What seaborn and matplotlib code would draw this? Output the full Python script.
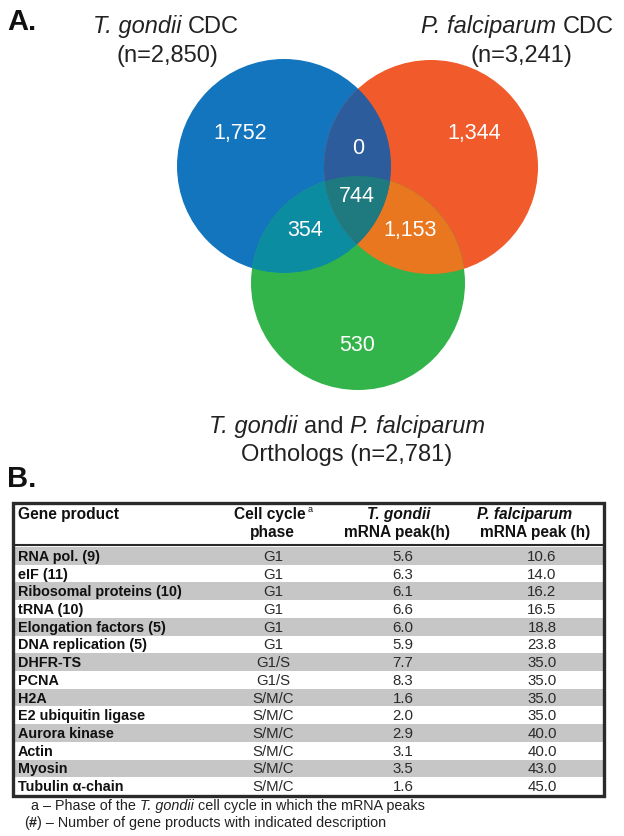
import numpy as np
import pandas as pd
import matplotlib
matplotlib.use('Agg')
import matplotlib.pyplot as plt
import seaborn as sns
from matplotlib.patches import Circle, Polygon, Rectangle
from matplotlib.colors import ListedColormap

# --- datos del diagrama de Venn ---
set_species = ['T. gondii', 'P. falciparum']
set_sizes = [2850, 3241, 2781]
# regiones: (T. gondii, P. falciparum, ortologos)
region_keys = ['100', '010', '110', '111', '101', '011', '001']
region_counts = [1752, 1344, 0, 744, 354, 1153, 530]

# --- datos de la tabla ---
col_headers = ['Gene product', 'Cell cycle', 'T. gondii', 'P. falciparum']
gene_products = ['RNA pol. (9)', 'eIF (11)', 'Ribosomal proteins (10)', 'tRNA (10)',
                 'Elongation factors (5)', 'DNA replication (5)', 'DHFR-TS', 'PCNA',
                 'H2A', 'E2 ubiquitin ligase', 'Aurora kinase', 'Actin', 'Myosin',
                 'Tubulin α-chain']
phases = ['G1', 'G1', 'G1', 'G1', 'G1', 'G1', 'G1/S', 'G1/S',
          'S/M/C', 'S/M/C', 'S/M/C', 'S/M/C', 'S/M/C', 'S/M/C']
tg_peak = [5.6, 6.3, 6.1, 6.6, 6.0, 5.9, 7.7, 8.3, 1.6, 2.0, 2.9, 3.1, 3.5, 1.6]
pf_peak = [10.6, 14.0, 16.2, 16.5, 18.8, 23.8, 35.0, 35.0, 35.0, 35.0, 40.0, 40.0, 43.0, 45.0]

sns.set_theme(style='white')
plt.rcParams['font.family'] = ['Liberation Sans', 'DejaVu Sans']

W, H = 624, 837
fig = plt.figure(figsize=(W / 100, H / 100), dpi=100)
renderer = fig.canvas.get_renderer()

# --- tabla: franjas con seaborn ---
tx0, tx1, ty0, ty1 = 14, 604, 548, 796
hax = fig.add_axes([tx0 / W, 1 - ty1 / H, (tx1 - tx0) / W, (ty1 - ty0) / H])
table = pd.DataFrame({'product': gene_products, 'phase': phases,
                      'tg': tg_peak, 'pf': pf_peak})
table['band'] = [1 - i % 2 for i in range(len(table))]
sns.heatmap(table[['band']], ax=hax, cmap=ListedColormap(['white', '#c6c6c6']),
            vmin=0, vmax=1, cbar=False, xticklabels=False, yticklabels=False)
hax.set_xlabel('')
hax.set_ylabel('')

def fx(px):
    return (px - tx0) / (tx1 - tx0)

tr = hax.get_yaxis_transform()
for i, row in table.iterrows():
    y = i + 0.5
    hax.text(fx(18), y, row['product'], transform=tr, ha='left', va='center',
             fontsize=10.4, fontweight='bold', color='#111111')
    hax.text(fx(273), y, row['phase'], transform=tr, ha='center', va='center',
             fontsize=10.8, color='#2a2a2a')
    hax.text(fx(403), y, f"{row['tg']:.1f}", transform=tr, ha='center', va='center',
             fontsize=10.8, color='#2a2a2a')
    hax.text(fx(542), y, f"{row['pf']:.1f}", transform=tr, ha='center', va='center',
             fontsize=10.8, color='#2a2a2a')

# --- capa superior en pixeles ---
ax = fig.add_axes([0, 0, 1, 1], facecolor='none')
ax.set_xlim(0, W)
ax.set_ylim(H, 0)
ax.axis('off')


def text_width(s, **kw):
    t = ax.text(0, 0, s, **kw)
    w = t.get_window_extent(renderer).width
    t.remove()
    return w


def runs_text(x, y, runs, ha='left', size=17, color='#222222'):
    """Texto con tramos en cursiva / negrita; runs = (texto, estilo, peso, espacio_antes)."""
    gap = text_width('x x', fontsize=size) - text_width('xx', fontsize=size)
    arts, widths = [], []
    for s, style, weight, sp in runs:
        a = ax.text(0, y, s, fontsize=size, fontstyle=style, fontweight=weight,
                    color=color, ha='left', va='baseline')
        arts.append(a)
        widths.append(a.get_window_extent(renderer).width + (gap if sp else 0))
    total = sum(widths)
    pos = x - total / 2 if ha == 'center' else x
    for a, w, run in zip(arts, widths, runs):
        a.set_x(pos + (gap if run[3] else 0))
        pos += w


r = 107
c_tg = np.array([284.0, 167.0])
c_pf = np.array([431.0, 168.0])
c_or = np.array([358.0, 284.0])

def lens_polygon(c1, c2, r, n=1440):
    t = np.linspace(0, 2 * np.pi, n, endpoint=False)
    ring = np.c_[np.cos(t), np.sin(t)] * r
    a = ring + c1
    b = ring + c2
    pts = np.vstack([a[np.hypot(*(a - c2).T) <= r], b[np.hypot(*(b - c1).T) <= r]])
    mid = pts.mean(axis=0)
    order = np.argsort(np.arctan2(pts[:, 1] - mid[1], pts[:, 0] - mid[0]))
    return pts[order]

blue = ax.add_patch(Circle(c_tg, r, color='#1275bd', lw=0))
orange = ax.add_patch(Circle(c_pf, r, color='#f15a2b', lw=0))
green = ax.add_patch(Circle(c_or, r, color='#33b44a', lw=0))
p = ax.add_patch(Circle(c_or, r, color='#0b8ca1', lw=0))
p.set_clip_path(blue)
p = ax.add_patch(Circle(c_or, r, color='#e8771f', lw=0))
p.set_clip_path(orange)
lens = lens_polygon(c_tg, c_pf, r)
ax.add_patch(Polygon(lens, closed=True, color='#2c5c9b', lw=0))
p = ax.add_patch(Polygon(lens, closed=True, color='#1f7a7f', lw=0))
p.set_clip_path(green)

count_pos = {'100': (240, 133), '010': (474, 133), '110': (358, 148),
             '111': (357, 196), '101': (305, 230), '011': (410, 230), '001': (357, 345)}
for key, n in zip(region_keys, region_counts):
    x, y = count_pos[key]
    ax.text(x, y, f'{n:,}', ha='center', va='center', fontsize=15.5, color='white')

runs_text(166, 33, [(set_species[0], 'italic', 'normal', False), ('CDC', 'normal', 'normal', True)],
          ha='center')
ax.text(167, 62, f'(n={set_sizes[0]:,})', ha='center', va='baseline', fontsize=17, color='#222222')
runs_text(517, 33, [(set_species[1], 'italic', 'normal', False), ('CDC', 'normal', 'normal', True)],
          ha='center')
ax.text(521, 62, f'(n={set_sizes[1]:,})', ha='center', va='baseline', fontsize=17, color='#222222')
runs_text(347, 433, [(set_species[0], 'italic', 'normal', False), ('and', 'normal', 'normal', True),
                     (set_species[1], 'italic', 'normal', True)], ha='center')
ax.text(347, 461, f'Orthologs (n={set_sizes[2]:,})', ha='center', va='baseline',
        fontsize=17, color='#222222')

ax.text(7, 30, 'A.', ha='left', va='baseline', fontsize=21, fontweight='bold', color='#111111')
ax.text(7, 487, 'B.', ha='left', va='baseline', fontsize=21, fontweight='bold', color='#111111')

# cabecera y bordes de la tabla
hs = 11.2
ax.add_patch(Rectangle((13, 504), 591, 293, fill=False, lw=2.4, ec='#2a2a2a'))
ax.plot([13, 604], [546, 546], color='#2a2a2a', lw=1.5)
ax.text(18, 514, col_headers[0], ha='left', va='center', fontsize=hs, fontweight='bold', color='#111111')
ax.text(270, 514, col_headers[1], ha='center', va='center', fontsize=hs, fontweight='bold', color='#111111')
ax.text(308, 509, 'a', ha='left', va='center', fontsize=6.5, color='#111111')
ax.text(272, 533, 'phase', ha='center', va='center', fontsize=hs, fontweight='bold', color='#111111')
ax.text(399, 514, col_headers[2], ha='center', va='center', fontsize=hs, fontweight='bold',
        fontstyle='italic', color='#111111')
ax.text(397, 533, 'mRNA peak(h)', ha='center', va='center', fontsize=hs, fontweight='bold', color='#111111')
ax.text(477, 514, col_headers[3], ha='left', va='center', fontsize=hs, fontweight='bold',
        fontstyle='italic', color='#111111')
ax.text(480, 533, 'mRNA peak (h)', ha='left', va='center', fontsize=hs, fontweight='bold', color='#111111')

# notas al pie
runs_text(31, 810, [('a – Phase of the', 'normal', 'normal', False),
                    (set_species[0], 'italic', 'normal', True),
                    ('cell cycle in which the mRNA peaks', 'normal', 'normal', True)],
          size=10.4)
runs_text(24, 827, [('(', 'normal', 'normal', False), ('#', 'normal', 'bold', False),
                    (') – Number of gene products with indicated description', 'normal', 'normal', False)],
          size=10.4)

fig.savefig('out.png', dpi=100)
